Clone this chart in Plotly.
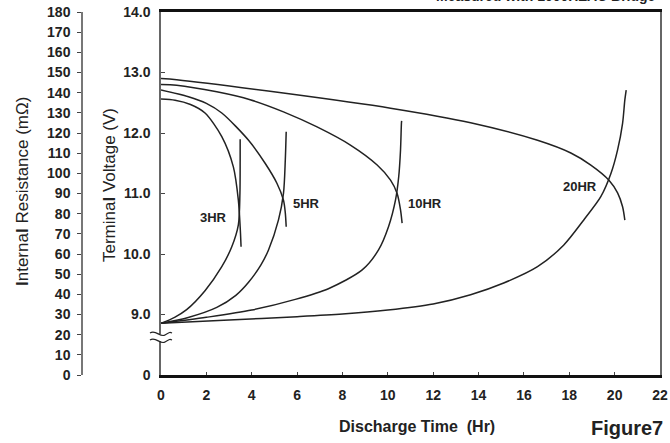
import plotly.graph_objects as go

# ---- data ----
# Terminal voltage curves (time in Hr, voltage in V)
v3_t = [0, 0.62, 1.3, 1.94, 2.68, 3.19, 3.41, 3.49, 3.53]
v3_v = [12.56, 12.54, 12.47, 12.33, 11.94, 11.44, 10.89, 10.45, 10.12]

v5_t = [0, 1.21, 2.0, 2.68, 3.86, 4.59, 5.11, 5.40, 5.48, 5.52]
v5_v = [12.71, 12.60, 12.49, 12.33, 11.88, 11.50, 11.17, 10.89, 10.68, 10.45]

v10_t = [0, 0.69, 2.46, 3.93, 5.40, 6.88, 8.35, 9.53, 10.12, 10.41, 10.56, 10.63]
v10_v = [12.80, 12.79, 12.68, 12.55, 12.35, 12.10, 11.80, 11.47, 11.22, 11.00, 10.73, 10.51]

v20_t = [0, 0.69, 5.39, 10.12, 13.65, 16.6, 18.07, 18.95, 19.75, 20.13, 20.35, 20.45]
v20_v = [12.90, 12.88, 12.66, 12.41, 12.17, 11.88, 11.67, 11.47, 11.22, 11.01, 10.78, 10.56]

# Internal resistance curves (time in Hr, resistance in mOhm)
r3_t = [0, 0.6, 1.13, 1.94, 2.68, 3.12, 3.41, 3.48, 3.49, 3.49]
r3_r = [25.6, 28.6, 32.4, 41.8, 53.7, 63.6, 74.5, 90.1, 106.6, 116.9]

r5_t = [0, 1.2, 2.46, 3.3, 3.86, 4.4, 4.74, 5.18, 5.40, 5.48, 5.52]
r5_r = [25.6, 28.5, 33.5, 39.5, 46.0, 54.5, 62.0, 76.9, 90.1, 106.6, 120.6]

r10_t = [0, 2.0, 4.0, 5.92, 7.38, 8.87, 9.59, 10.03, 10.34, 10.48, 10.56, 10.60, 10.61]
r10_r = [25.6, 28.6, 32.2, 37.5, 42.8, 52.1, 62.0, 73.5, 86.8, 98.3, 111.6, 124.8, 126.0]

r20_t = [0, 3.0, 6.0, 8.0, 10.0, 12.0, 13.65, 15.11, 16.6, 17.76, 18.64, 19.39, 19.84, 20.13, 20.35, 20.45, 20.51]
r20_r = [25.6, 27.3, 28.9, 30.2, 32.2, 35.2, 39.8, 45.6, 53.7, 64.5, 76.9, 88.4, 100.0, 111.6, 124.8, 136.4, 141.3]

rate_labels = ["3HR", "5HR", "10HR", "20HR"]
label_t = [2.30, 6.41, 11.62, 18.47]
label_v = [10.61, 10.83, 10.83, 11.11]

x_ticks = list(range(0, 23, 2))
v_tickvals = [8, 9, 10, 11, 12, 13, 14]
v_ticktext = ["0", "9.0", "10.0", "11.0", "12.0", "13.0", "14.0"]
r_ticks = list(range(0, 181, 10))

# ---- figure ----
W, H = 670, 443
ML, MR, MT, MB = 82, 10, 12, 68
PW, PH = W - ML - MR, H - MT - MB
x_start = (161 - ML) / PW

def px(x):
    return (x - ML) / PW

def py(y):
    return 1 - (y - MT) / PH

LINE = dict(color="#222222", width=1.5)
fig = go.Figure()
for t, v in [(v3_t, v3_v), (v5_t, v5_v), (v10_t, v10_v), (v20_t, v20_v)]:
    fig.add_trace(go.Scatter(x=t, y=v, mode="lines", line=dict(LINE, shape="spline", smoothing=0.8),
                             xaxis="x", yaxis="y", showlegend=False, hoverinfo="skip"))
for t, r in [(r3_t, r3_r), (r5_t, r5_r), (r10_t, r10_r), (r20_t, r20_r)]:
    fig.add_trace(go.Scatter(x=t, y=r, mode="lines", line=dict(LINE, shape="spline", smoothing=0.8),
                             xaxis="x", yaxis="y2", showlegend=False, hoverinfo="skip"))

FONT = "Liberation Sans, Arial, sans-serif"
tickfont = dict(family=FONT, size=14, color="#222222", weight="bold")

fig.update_layout(
    width=W, height=H,
    margin=dict(l=ML, r=MR, t=MT, b=MB, autoexpand=False),
    paper_bgcolor="white", plot_bgcolor="white",
    font=dict(family=FONT, color="#222222"),
    xaxis=dict(domain=[x_start, 1], range=[0, 22], tickvals=x_ticks, ticks="inside", ticklen=3,
               tickcolor="#444", showline=True, linecolor="#111111", linewidth=2.5, mirror=True,
               showgrid=False, zeroline=False, tickfont=tickfont, ticklabelstandoff=5,
               anchor="y"),
    yaxis=dict(range=[8, 14], tickvals=v_tickvals, ticktext=v_ticktext, ticks="inside", ticklen=4,
               tickcolor="#444", showline=True, linecolor="#666666", linewidth=1.5, mirror=True,
               showgrid=False, zeroline=False, tickfont=tickfont, anchor="x", ticklabelstandoff=6),
    yaxis2=dict(range=[0, 180], tickvals=r_ticks, ticks="outside", ticklen=4, tickcolor="#444",
                showline=True, linecolor="#777777", linewidth=1.5, showgrid=False, zeroline=False,
                tickfont=tickfont, overlaying="y", side="left", anchor="free", position=0,
                ticklabelstandoff=4),
)

ann = []
for lab, t, v in zip(rate_labels, label_t, label_v):
    ann.append(dict(x=t, y=v, xref="x", yref="y", text=lab, showarrow=False,
                    xanchor="center", yanchor="middle",
                    font=dict(family=FONT, size=13, color="#222222", weight="bold")))
ann.append(dict(x=px(22), y=py(192), xref="paper", yref="paper", textangle=-90, showarrow=False,
                xanchor="center", yanchor="middle",
                text="<b>I</b>nterna<b>l</b> Resistance (mΩ)",
                font=dict(family=FONT, size=17, color="#222222")))
ann.append(dict(x=px(109), y=py(185), xref="paper", yref="paper", textangle=-90, showarrow=False,
                xanchor="center", yanchor="middle",
                text="Termina<b>l</b> Voltage (V)",
                font=dict(family=FONT, size=17, color="#222222")))
ann.append(dict(x=px(417), y=py(427), xref="paper", yref="paper", showarrow=False,
                xanchor="center", yanchor="middle",
                text="Discharge Time  (Hr)",
                font=dict(family=FONT, size=16, color="#222222", weight="bold")))
ann.append(dict(x=px(665), y=py(428), xref="paper", yref="paper", xanchor="right", yanchor="middle",
                showarrow=False, text="Figure7",
                font=dict(family=FONT, size=20, color="#222222", weight="bold")))
ann.append(dict(x=px(658), y=py(6), xref="paper", yref="paper", xanchor="right", yanchor="bottom",
                showarrow=False, text="Measured with 1000HZAC Bridge",
                font=dict(family=FONT, size=14, color="#222222", weight="bold")))
fig.update_layout(annotations=ann)

# axis-break mark on the voltage axis
shapes = [dict(type="rect", xref="paper", yref="paper", x0=px(158), x1=px(164), y0=py(341), y1=py(334),
               fillcolor="white", line=dict(width=0), layer="above")]
for yy in (334, 341):
    shapes.append(dict(type="path", xref="paper", yref="paper", layer="above",
                       path=(f"M {px(150)},{py(yy - 1)} C {px(156)},{py(yy - 5)} {px(160)},{py(yy + 4)} "
                             f"{px(165)},{py(yy + 1)} S {px(170)},{py(yy - 2)} {px(172)},{py(yy - 1)}"),
                       line=dict(color="#222222", width=1.2)))
fig.update_layout(shapes=shapes)

fig.write_html("out.html", config={"displayModeBar": False},
               post_script="document.body.style.margin='0px';document.body.style.overflow='hidden';")
